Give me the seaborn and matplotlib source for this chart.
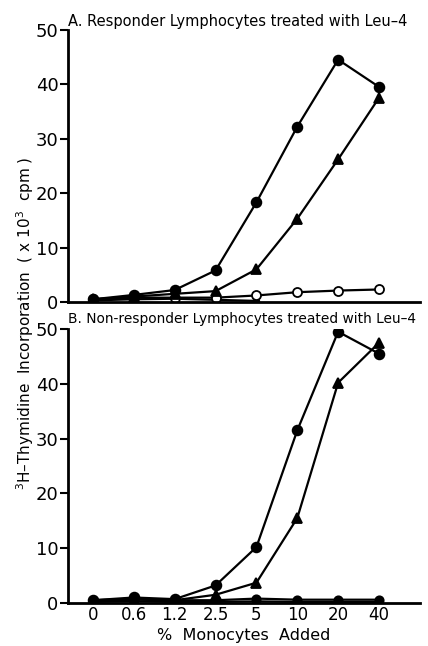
import matplotlib
matplotlib.use("Agg")
import matplotlib.pyplot as plt
import seaborn as sns
import pandas as pd
import numpy as np

doses = ["0", "0.6", "1.2", "2.5", "5", "10", "20", "40"]

# Panel A: responder lymphocytes
a_filled_circle = [0.5, 1.3, 2.2, 5.8, 18.3, 32.2, 44.5, 39.5]
a_triangle = [0.5, 1.0, 1.5, 2.0, 6.0, 15.3, 26.2, 37.5]
a_open_circle = [0.5, 0.8, 0.8, 0.8, 1.2, 1.8, 2.1, 2.3]
a_low = [0.3, 0.5, 0.6, 0.4, 0.2]

# Panel B: non-responder lymphocytes
b_filled_circle = [0.5, 1.0, 0.7, 3.2, 10.2, 31.5, 49.5, 45.5]
b_triangle = [0.3, 0.6, 0.5, 1.5, 3.7, 15.5, 40.2, 47.5]
b_low = [0.5, 0.8, 0.5, 0.5, 0.8, 0.6, 0.6, 0.6]
b_open_circle = [0.2, 0.3, 0.2, 0.2, 0.3, 0.2, 0.2, 0.2]

title_a = "A. Responder Lymphocytes treated with Leu\u20134"
title_b = "B. Non-responder Lymphocytes treated with Leu\u20134"
ylabel = "$^3$H\u2013Thymidine  Incorporation  ( x 10$^3$  cpm )"
xlabel = "%  Monocytes  Added"

sns.set_style("ticks")
plt.rcParams["font.family"] = ["DejaVu Sans"]
plt.rcParams["text.color"] = "black"
plt.rcParams["xtick.color"] = "black"
plt.rcParams["ytick.color"] = "black"
plt.rcParams["axes.labelcolor"] = "black"

fig = plt.figure(figsize=(4.28, 6.46), dpi=100)
axA = fig.add_axes([0.159, 0.5325, 0.822, 0.4215])
axB = fig.add_axes([0.159, 0.0666, 0.822, 0.4241])


def draw(ax, series):
    for vals, marker, face, ms in series:
        df = pd.DataFrame({"x": np.arange(len(vals)), "y": vals})
        sns.lineplot(data=df, x="x", y="y", ax=ax, color="black", lw=1.6,
                     marker=marker, markersize=ms, markerfacecolor=face,
                     markeredgecolor="black", markeredgewidth=1.3)
    ax.set_xlim(-0.61, 8.0)
    ax.set_ylim(0, 50)
    ax.set_yticks([0, 10, 20, 30, 40, 50])
    ax.tick_params(axis="y", labelsize=13, length=6, width=1.5, direction="out",
                   pad=1, colors="black")
    ax.set_xlabel("")
    ax.set_ylabel("")
    for s in ["top", "right"]:
        ax.spines[s].set_visible(False)
    for s in ["left", "bottom"]:
        ax.spines[s].set_linewidth(2)
        ax.spines[s].set_color("black")


draw(axA, [(a_low, "o", "black", 4), (a_open_circle, "o", "white", 6.5),
           (a_triangle, "^", "black", 7.5), (a_filled_circle, "o", "black", 7)])
draw(axB, [(b_open_circle, "o", "white", 5), (b_low, "o", "black", 6),
           (b_triangle, "^", "black", 7.5), (b_filled_circle, "o", "black", 7)])

axA.set_xticks([])
axB.set_xticks(np.arange(len(doses)))
axB.set_xticklabels(doses)
axB.tick_params(axis="x", labelsize=12, length=0, pad=2, colors="black")

axA.text(0.0, 1.003, title_a, transform=axA.transAxes, fontsize=10.5,
         ha="left", va="bottom", color="black")
axB.text(0.0, 1.012, title_b, transform=axB.transAxes, fontsize=9.9,
         ha="left", va="bottom", color="black")
axB.set_xlabel(xlabel, fontsize=11.5, labelpad=3, color="black")
fig.text(0.058, 0.5, ylabel, rotation=90, fontsize=11, ha="center", va="center",
         color="black")

fig.savefig("out.png", dpi=100)
